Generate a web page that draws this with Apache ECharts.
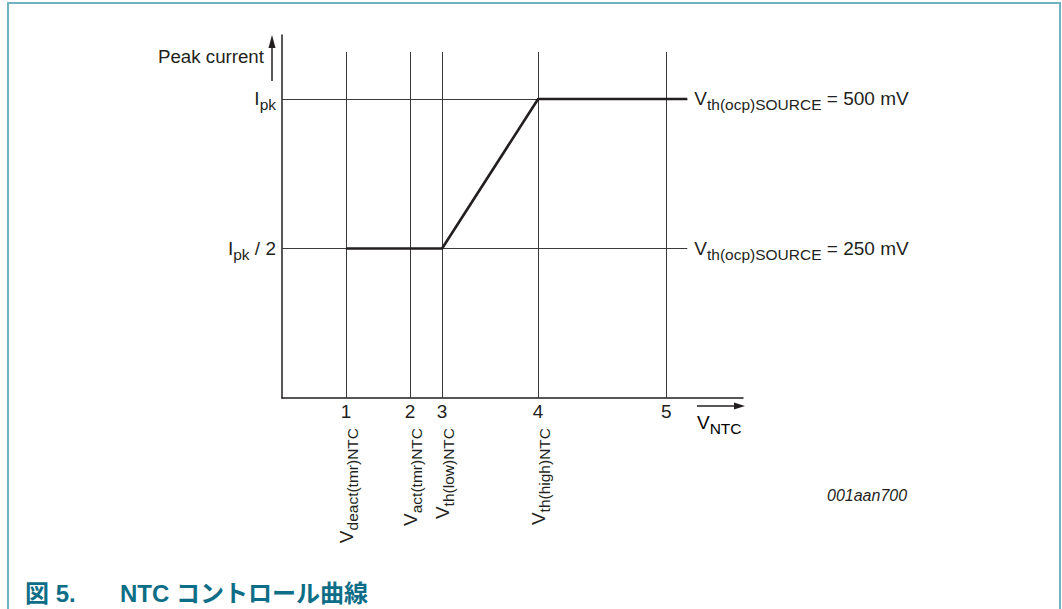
<!DOCTYPE html>
<html><head><meta charset="utf-8">
<script src="https://cdn.jsdelivr.net/npm/echarts@6/dist/echarts.min.js"></script>
<style>
html,body{margin:0;padding:0;background:#fff;}
#chart{position:absolute;left:0;top:0;width:1062px;height:609px;}
#frame{position:absolute;left:7px;top:2px;width:1054px;height:660px;border:2px solid #72b3c2;border-bottom:none;box-sizing:border-box;pointer-events:none;}
</style></head><body>
<div id="chart"></div><div id="frame"></div>
<script>
// ---- data ----
const xTickPos = [1, 2, 2.5, 4, 6];
const xTickLabels = ['1', '2', '3', '4', '5'];
const xNamePos = [1, 2, 2.5, 4];
const xNameSubs = ['deact(tmr)NTC', 'act(tmr)NTC', 'th(low)NTC', 'th(high)NTC'];
const curveX = [1, 2.5, 4, 6.33];
const curveY = [0.5, 0.5, 1, 1];
const levels = [0.5, 1];
const levelTickText = ['{m|I}{s|pk}{m| / 2}', '{m|I}{s|pk}'];
const levelRightText = ['{m|V}{s|th(ocp)SOURCE}{m| = 250 mV}', '{m|V}{s|th(ocp)SOURCE}{m| = 500 mV}'];
const levelEnd = 6.33;
const gridTop = 1.157;
const xMax = 7.2;
const yMax = 1.214;

const INK = '#231f20';
const FONT = '"Liberation Sans", Arial, sans-serif';
const rich = {
  m: {fontSize: 19, fontFamily: FONT, color: INK, lineHeight: 22},
  s: {fontSize: 15.5, fontFamily: FONT, color: INK, lineHeight: 16, padding: [12, 0, 0, 0]}
};

const chart = echarts.init(document.getElementById('chart'), null, {renderer: 'svg'});

const vLines = xTickPos.map(p => [{coord: [p, 0]}, {coord: [p, gridTop]}]);
const hLines = levels.map((lv, i) => [
  {coord: [0, lv], label: {formatter: levelRightText[i]}},
  {coord: [levelEnd, lv]}
]);

chart.setOption({
  animation: false,
  backgroundColor: '#fff',
  grid: {left: 282, right: 319, top: 35, bottom: 211, containLabel: false},
  xAxis: [{
    type: 'value', min: 0, max: xMax,
    axisLine: {show: true, lineStyle: {color: INK, width: 1.5}},
    axisTick: {show: false},
    splitLine: {show: false},
    axisLabel: {
      customValues: xTickPos, margin: 4,
      fontSize: 19, fontFamily: FONT, color: INK,
      formatter: v => xTickLabels[xTickPos.indexOf(v)] ?? ''
    }
  }, {
    type: 'value', min: 0, max: xMax, position: 'bottom',
    axisLine: {show: false}, axisTick: {show: false}, splitLine: {show: false},
    axisLabel: {
      customValues: xNamePos, rotate: 90, margin: 30,
      formatter: v => '{m|V}{s|' + xNameSubs[xNamePos.indexOf(v)] + '}',
      rich: rich
    }
  }],
  yAxis: {
    type: 'value', min: 0, max: yMax,
    axisLine: {show: true, lineStyle: {color: INK, width: 1.5}},
    axisTick: {show: false},
    splitLine: {show: false},
    axisLabel: {
      customValues: levels, margin: 6,
      formatter: v => levelTickText[levels.indexOf(v)] ?? '',
      rich: rich
    }
  },
  series: [{
    type: 'line', data: [], silent: true,
    markLine: {
      silent: true, symbol: ['none', 'none'], animation: false,
      lineStyle: {color: '#3a3a3a', width: 1, type: 'solid'},
      label: {show: false},
      data: vLines
    }
  }, {
    type: 'line', data: [], silent: true,
    markLine: {
      silent: true, symbol: ['none', 'none'], animation: false,
      lineStyle: {color: '#3a3a3a', width: 1, type: 'solid'},
      label: {show: true, position: 'end', distance: 7, rich: rich},
      data: hLines
    }
  }, {
    type: 'line', silent: true, symbol: 'none', z: 5,
    lineStyle: {color: INK, width: 2.6},
    data: curveX.map((x, i) => [x, curveY[i]])
  }],
  graphic: [
    {type: 'text', left: 158, top: 47, style: {text: 'Peak current', font: '18.7px ' + FONT, fill: INK}},
    {type: 'line', shape: {x1: 272, y1: 81, x2: 272, y2: 44}, style: {stroke: INK, lineWidth: 1.5}},
    {type: 'polygon', shape: {points: [[272, 35], [268.5, 48], [275.5, 48]]}, style: {fill: INK}},
    {type: 'line', shape: {x1: 697, y1: 406, x2: 737, y2: 406}, style: {stroke: INK, lineWidth: 1.3}},
    {type: 'polygon', shape: {points: [[745, 406], [734, 402.5], [734, 409.5]]}, style: {fill: INK}},
    {type: 'text', left: 697, top: 408, style: {text: '{m|V}{s|NTC}', rich: rich}},
    {type: 'text', left: 827, top: 487, style: {text: '001aan700', font: 'italic 16px ' + FONT, fill: INK}},
    {type: 'text', left: 25, top: 581, style: {text: '図 5.', font: 'bold 24px ' + FONT + ', "Noto Sans CJK JP"', fill: '#0e6e87'}},
    {type: 'text', left: 120, top: 581, style: {text: 'NTC コントロール曲線', font: 'bold 24px ' + FONT + ', "Noto Sans CJK JP"', fill: '#0e6e87'}}
  ]
});
</script>
</body></html>
